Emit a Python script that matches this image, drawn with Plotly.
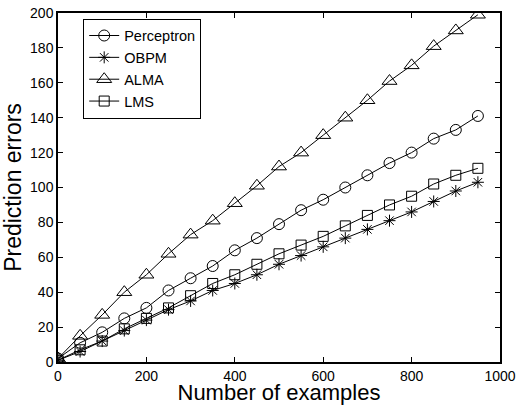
import plotly.graph_objects as go

examples = [0, 50, 100, 150, 200, 250, 300, 350, 400, 450, 500, 550, 600, 650, 700, 750, 800, 850, 900, 950]
perceptron = [2, 11, 17, 25, 31, 41, 48, 55, 64, 71, 79, 87, 93, 100, 107, 114, 120, 128, 133, 141]
obpm = [1, 6, 12, 18, 24, 30, 35, 41, 45, 50, 56, 61, 66, 71, 76, 81, 86, 92, 98, 103]
alma = [2, 15, 27, 40, 50, 62, 73, 81, 91, 101, 112, 120, 130, 140, 150, 161, 170, 181, 190, 199]
lms = [1, 7, 12, 19, 25, 31, 38, 45, 50, 56, 62, 67, 72, 78, 84, 90, 95, 102, 107, 111]

series = [
    ("Perceptron", perceptron, "circle-open", 11),
    ("OBPM", obpm, "asterisk-open", 10),
    ("ALMA", alma, "triangle-up-open", 13),
    ("LMS", lms, "square-open", 10),
]

fig = go.Figure()
for name, vals, sym, size in series:
    fig.add_trace(go.Scatter(
        x=examples, y=vals, name=name, mode="lines+markers",
        line=dict(color="black", width=1),
        marker=dict(symbol=sym, size=size, color="black", line=dict(color="black", width=1)),
    ))

font = "Liberation Sans, Arial, Helvetica, sans-serif"
fig.update_layout(
    width=517, height=405,
    margin=dict(l=58, r=17, t=13, b=43, autoexpand=False),
    paper_bgcolor="white", plot_bgcolor="white",
    font=dict(family=font, size=14, color="black"),
    showlegend=True,
    legend=dict(
        x=0.057, y=0.984, xanchor="left", yanchor="top",
        bordercolor="black", borderwidth=1, bgcolor="white",
        font=dict(size=14.5), tracegroupgap=0, itemwidth=30,
    ),
    xaxis=dict(
        range=[0, 1000], tickvals=[0, 200, 400, 600, 800, 1000],
        ticks="inside", ticklen=5, tickcolor="black",
        showline=True, linecolor="black", linewidth=1.5, mirror="ticks",
        showgrid=False, zeroline=False, automargin=False,
        title=dict(text="Number of examples", font=dict(size=22), standoff=3),
    ),
    yaxis=dict(
        range=[0, 200], tickvals=list(range(0, 201, 20)),
        ticks="inside", ticklen=5, tickcolor="black",
        showline=True, linecolor="black", linewidth=1.5, mirror="ticks",
        showgrid=False, zeroline=False, automargin=False, ticklabeloverflow="allow",
        title=dict(text="Prediction errors", font=dict(size=23), standoff=2),
    ),
)

# Remove the page's default body margin so the figure fills the window exactly.
fig.write_html(
    "out.html",
    config={"displayModeBar": False},
    post_script="document.body.style.margin='0';document.body.style.overflow='hidden';",
)
